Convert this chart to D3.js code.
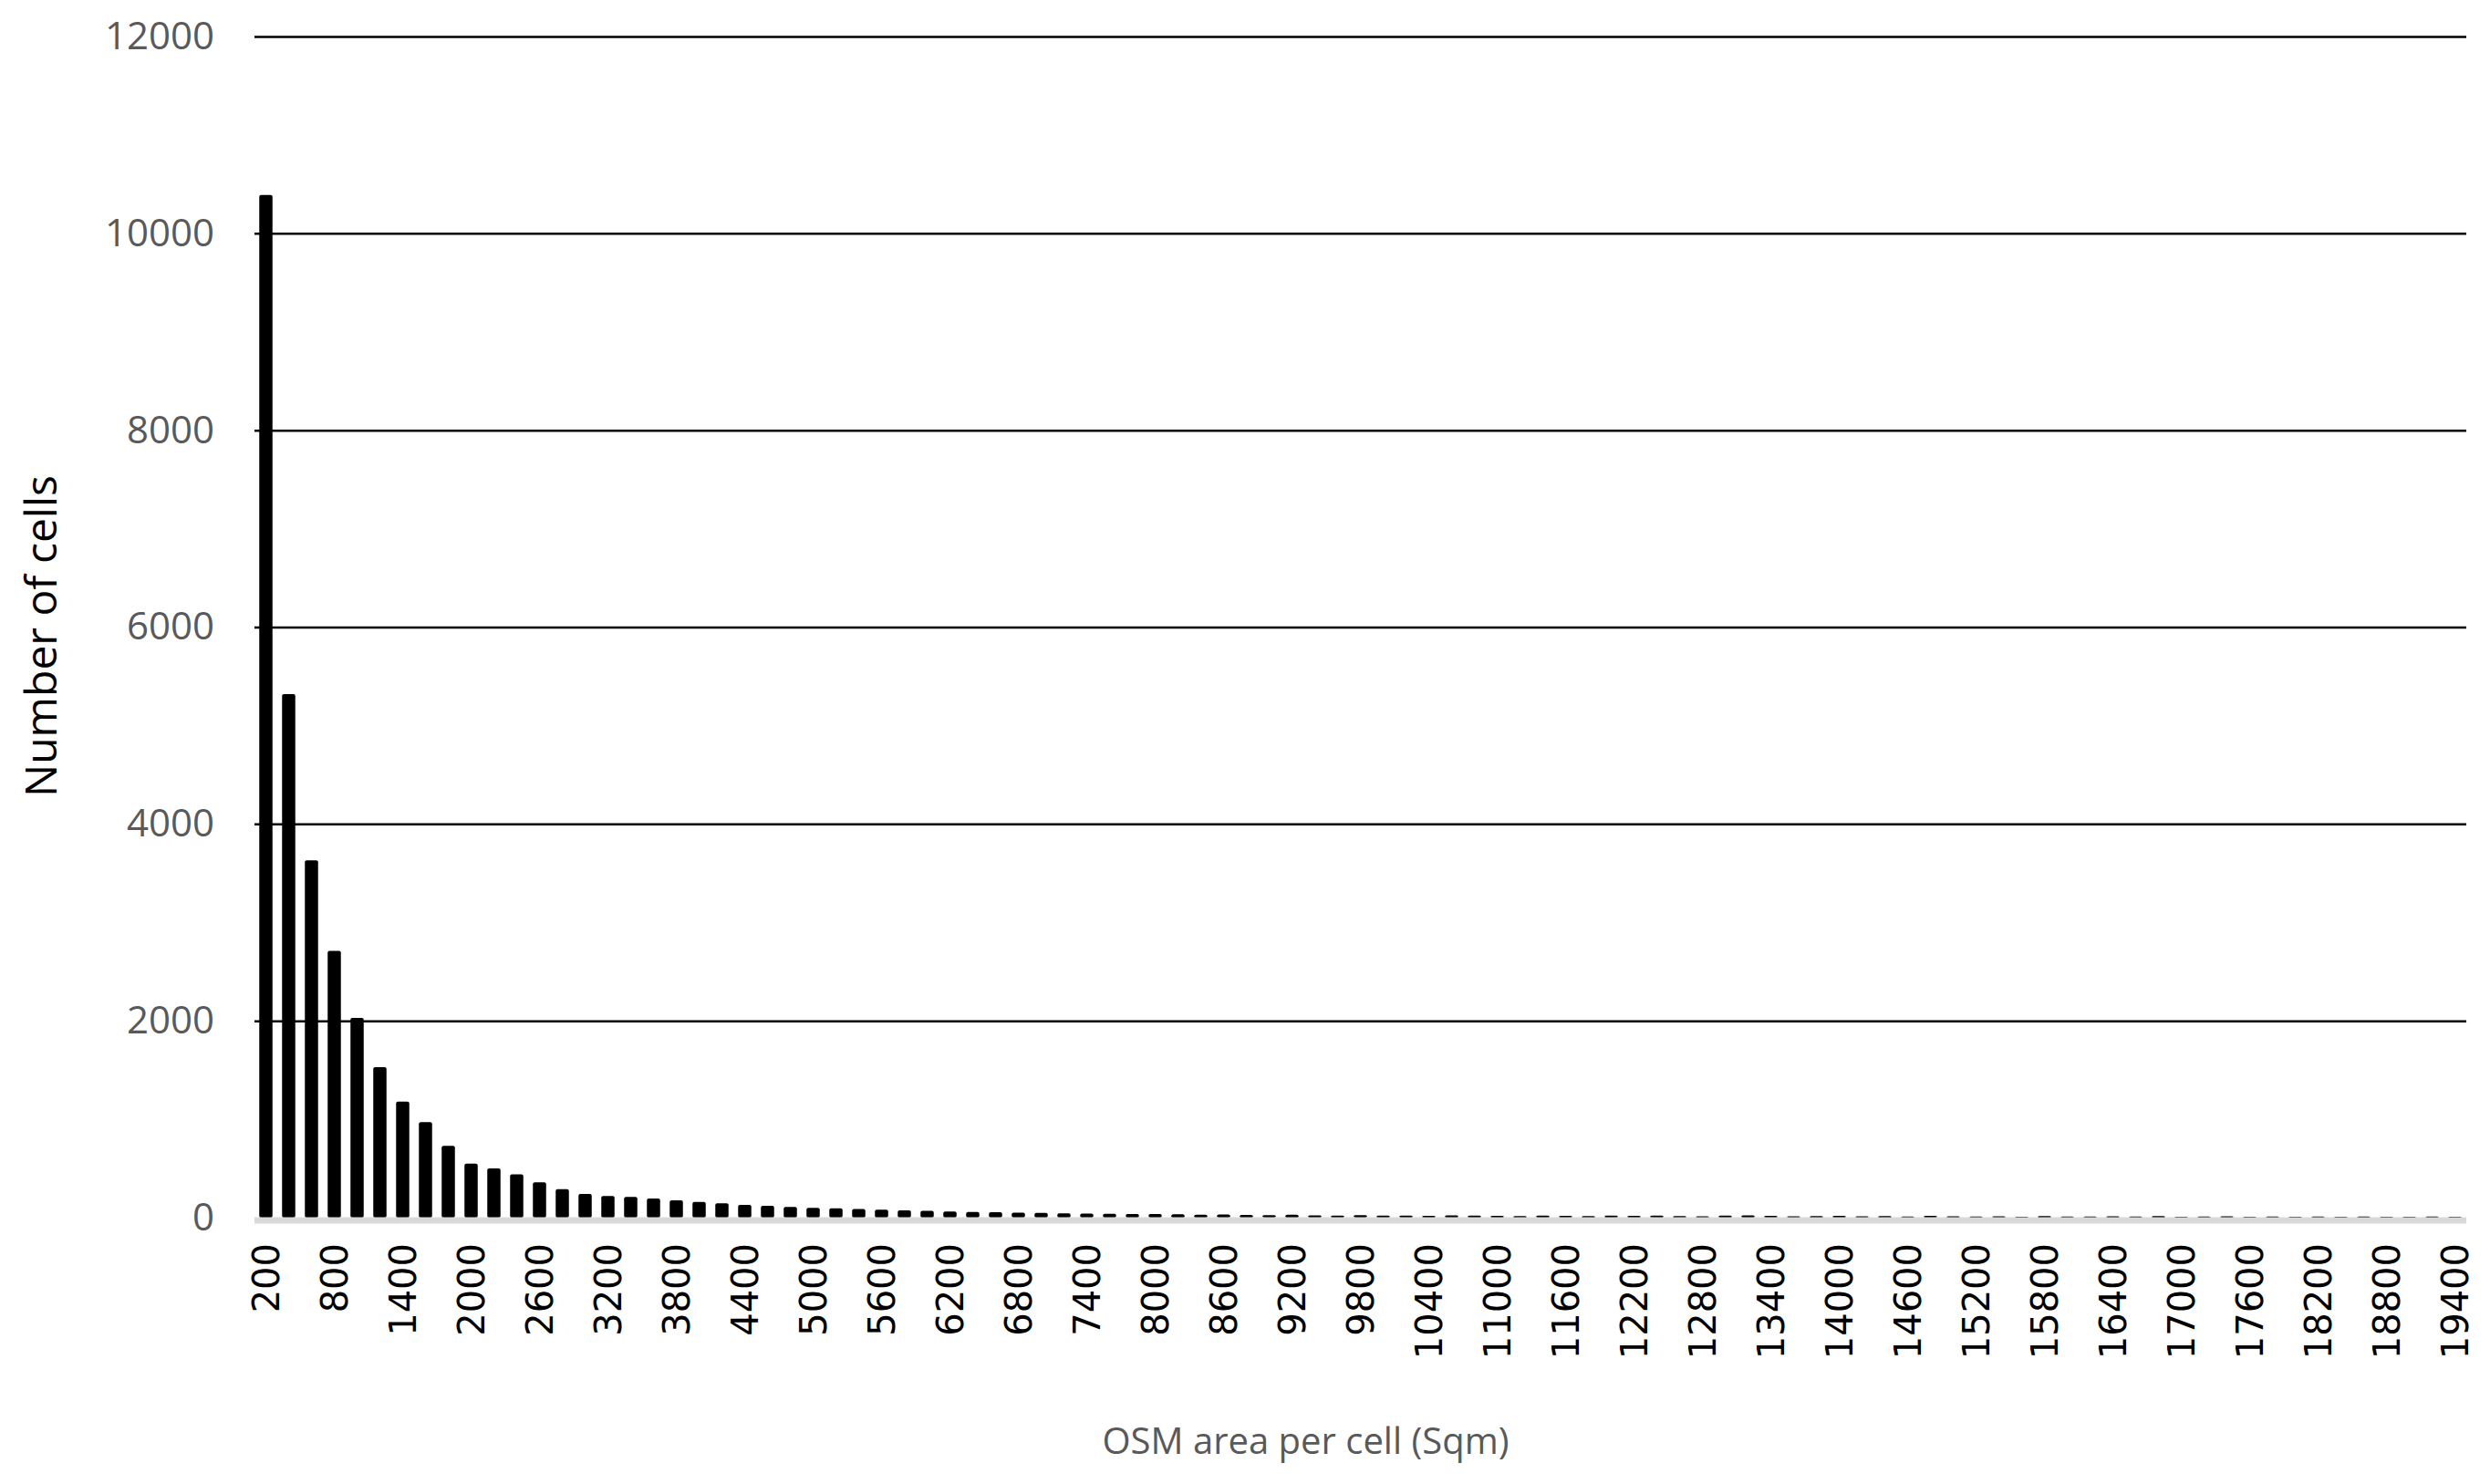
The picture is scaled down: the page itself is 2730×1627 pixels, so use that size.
<!DOCTYPE html>
<html>
<head>
<meta charset="utf-8">
<script src="https://cdn.jsdelivr.net/npm/d3@7"></script>
<style>
  body { margin: 0; background: #fff; }
</style>
</head>
<body>
<div id="plot"></div>
<script>
// bins of OSM area per cell, 200 .. 19400 sqm
const categories = d3.range(97).map(i => 200 + i * 200);

// number of cells per bin
const counts = [
  10390, 5320, 3630, 2710, 2030, 1530, 1180, 970, 730, 550,
  500, 440, 360, 290, 240, 220, 210, 195, 175, 160,
  145, 130, 120, 110, 100, 95, 88, 80, 75, 70,
  62, 58, 55, 50, 48, 45, 42, 40, 38, 36,
  34, 30, 32, 28, 26, 30, 24, 22, 26, 20,
  22, 18, 24, 20, 18, 16, 22, 18, 16, 20,
  18, 22, 16, 14, 20, 24, 18, 14, 16, 18,
  14, 16, 12, 18, 14, 12, 14, 10, 16, 12,
  12, 14, 12, 16, 10, 12, 14, 10, 12, 10,
  12, 10, 12, 10, 10, 12, 10
];

const yTicks = [0, 2000, 4000, 6000, 8000, 10000, 12000];
const xLabelEvery = 3;

const svgWidth = 2730, svgHeight = 1627;
const margin = { top: 40, right: 26, bottom: 292, left: 279 };
const chartWidth = svgWidth - margin.left - margin.right;
const chartHeight = svgHeight - margin.top - margin.bottom;

const svg = d3.select("#plot").append("svg")
  .attr("width", svgWidth)
  .attr("height", svgHeight);

const g = svg.append("g")
  .attr("transform", `translate(${margin.left},${margin.top})`);

const xScale = d3.scaleBand().domain(categories).range([0, chartWidth]).paddingInner(0.42).paddingOuter(0.21);
const yScale = d3.scaleLinear().domain([0, 12000]).range([chartHeight, 0]);

// gridlines + y labels
const yAxis = g.append("g")
  .call(d3.axisLeft(yScale).tickValues(yTicks).tickFormat(d3.format("d")).tickSize(-chartWidth).tickPadding(44))
  .call(a => a.select(".domain").remove());
yAxis.selectAll(".tick line")
  .attr("stroke", d => d === 0 ? "none" : "#000")
  .attr("stroke-width", 2.5);
yAxis.selectAll(".tick text")
  .attr("fill", "#595959")
  .style("font-family", "'Open Sans', sans-serif")
  .style("font-size", "42px");

// bars
g.selectAll("rect.bar")
  .data(categories)
  .enter().append("rect")
  .attr("class", "bar")
  .attr("x", d => xScale(d))
  .attr("y", (d, i) => yScale(counts[i]))
  .attr("width", xScale.bandwidth())
  .attr("height", (d, i) => chartHeight - yScale(counts[i]))
  .attr("rx", 2)
  .attr("fill", "#000");

// zero axis line
g.append("line")
  .attr("x1", 0).attr("x2", chartWidth)
  .attr("y1", chartHeight + 3).attr("y2", chartHeight + 3)
  .attr("stroke", "#d9d9d9")
  .attr("stroke-width", 7);

// x labels
const xAxis = g.append("g")
  .attr("transform", `translate(0,${chartHeight})`)
  .call(d3.axisBottom(xScale).tickValues(categories.filter((d, i) => i % xLabelEvery === 0)).tickSize(0))
  .call(a => a.select(".domain").remove());
xAxis.selectAll(".tick text")
  .attr("transform", "rotate(-90)")
  .attr("x", -28)
  .attr("y", 0)
  .attr("dy", "0.35em")
  .style("text-anchor", "end")
  .attr("fill", "#000")
  .style("font-family", "'DejaVu Sans', sans-serif")
  .style("font-size", "40px");

// axis titles
svg.append("text")
  .attr("transform", `translate(62,${margin.top + chartHeight / 2 + 10}) rotate(-90)`)
  .style("text-anchor", "middle")
  .style("font-family", "'Open Sans', sans-serif")
  .style("font-size", "48px")
  .attr("fill", "#000")
  .text("Number of cells");

svg.append("text")
  .attr("x", margin.left + chartWidth / 2 - 60)
  .attr("y", 1594)
  .style("text-anchor", "middle")
  .style("font-family", "'Open Sans', sans-serif")
  .style("font-size", "40px")
  .attr("fill", "#595959")
  .text("OSM area per cell (Sqm)");
</script>
</body>
</html>
